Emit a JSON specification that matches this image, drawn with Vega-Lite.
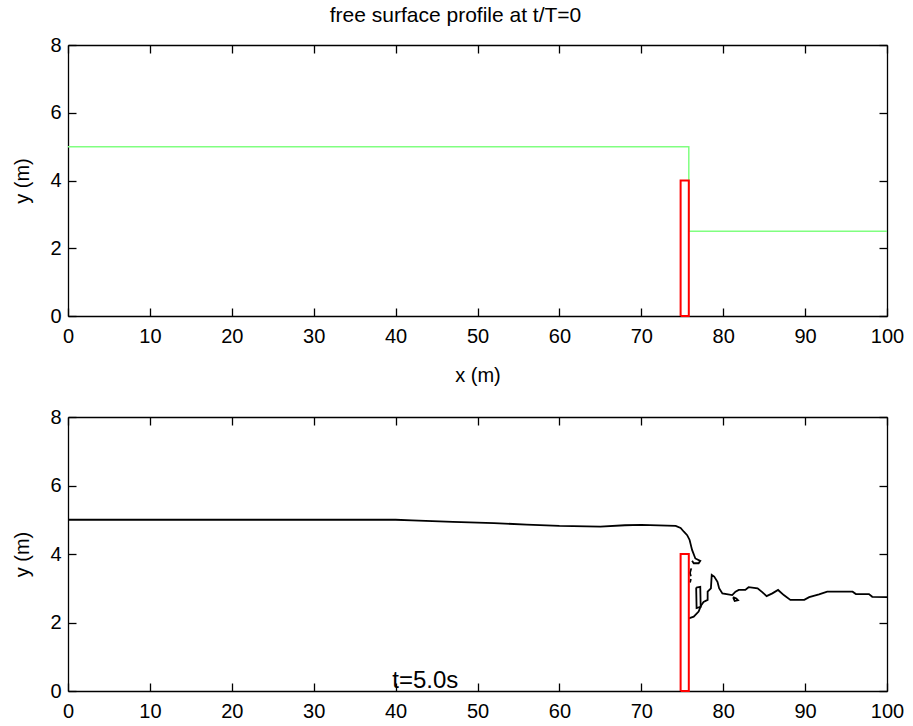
{
  "$schema": "https://vega.github.io/schema/vega-lite/v6.json",
  "padding": {"left": 12, "top": 5, "right": 5, "bottom": 5},
  "background": "white",
  "config": {
    "view": {"stroke": null},
    "font": "Liberation Sans",
    "concat": {"spacing": 22},
    "axis": {
      "grid": false,
      "domainColor": "#000",
      "domainWidth": 1.3,
      "tickColor": "#000",
      "tickWidth": 1.3,
      "tickSize": -8,
      "labelFont": "Liberation Sans",
      "labelFontSize": 20,
      "labelColor": "#000",
      "labelFlush": false,
      "labelOverlap": false,
      "labelPadding": 18,
      "titleFont": "Liberation Sans",
      "titleFontSize": 20,
      "titleFontWeight": "normal",
      "titleColor": "#000"
    },
    "title": {"font": "Liberation Sans", "fontSize": 21, "fontWeight": "normal", "color": "#000", "offset": 9}
  },
  "datasets": {
    "surface0": [
      {"i": 0, "x": 0, "y": 5},
      {"i": 1, "x": 75.8, "y": 5},
      {"i": 2, "x": 75.8, "y": 2.5},
      {"i": 3, "x": 100, "y": 2.5}
    ],
    "gate": [
      {"i": 0, "x": 74.8, "y": 0},
      {"i": 1, "x": 74.8, "y": 4},
      {"i": 2, "x": 75.8, "y": 4},
      {"i": 3, "x": 75.8, "y": 0},
      {"i": 4, "x": 74.8, "y": 0}
    ],
    "surface5": [
      {"seg": "a", "i": 0, "x": 0, "y": 5.0},
      {"seg": "a", "i": 1, "x": 20, "y": 5.0},
      {"seg": "a", "i": 2, "x": 40, "y": 5.0},
      {"seg": "a", "i": 3, "x": 42, "y": 4.98},
      {"seg": "a", "i": 4, "x": 47, "y": 4.94},
      {"seg": "a", "i": 5, "x": 52, "y": 4.9},
      {"seg": "a", "i": 6, "x": 56, "y": 4.86},
      {"seg": "a", "i": 7, "x": 60, "y": 4.82},
      {"seg": "a", "i": 8, "x": 65, "y": 4.8},
      {"seg": "a", "i": 9, "x": 68, "y": 4.84},
      {"seg": "a", "i": 10, "x": 70, "y": 4.85},
      {"seg": "a", "i": 11, "x": 74.2, "y": 4.82},
      {"seg": "a", "i": 12, "x": 74.8, "y": 4.76},
      {"seg": "a", "i": 13, "x": 75.2, "y": 4.65},
      {"seg": "a", "i": 14, "x": 75.6, "y": 4.55},
      {"seg": "a", "i": 15, "x": 75.9, "y": 4.41},
      {"seg": "a", "i": 16, "x": 76.0, "y": 4.31},
      {"seg": "a", "i": 17, "x": 76.2, "y": 4.12},
      {"seg": "a", "i": 18, "x": 76.6, "y": 3.87},
      {"seg": "a", "i": 19, "x": 77.2, "y": 3.8},
      {"seg": "a", "i": 20, "x": 77.0, "y": 3.73},
      {"seg": "a", "i": 21, "x": 76.4, "y": 3.73},
      {"seg": "a", "i": 22, "x": 76.2, "y": 3.8},
      {"seg": "b", "i": 0, "x": 76.1, "y": 3.58},
      {"seg": "b", "i": 1, "x": 75.95, "y": 3.45},
      {"seg": "b", "i": 2, "x": 76.05, "y": 3.35},
      {"seg": "c", "i": 0, "x": 76.05, "y": 3.27},
      {"seg": "c", "i": 1, "x": 75.95, "y": 3.17},
      {"seg": "d", "i": 0, "x": 76.7, "y": 3.02},
      {"seg": "d", "i": 1, "x": 77.2, "y": 3.04},
      {"seg": "d", "i": 2, "x": 77.25, "y": 2.46},
      {"seg": "d", "i": 3, "x": 76.75, "y": 2.42},
      {"seg": "d", "i": 4, "x": 76.7, "y": 3.02},
      {"seg": "e", "i": 0, "x": 75.8, "y": 2.12},
      {"seg": "e", "i": 1, "x": 76.4, "y": 2.17},
      {"seg": "e", "i": 2, "x": 77.0, "y": 2.32},
      {"seg": "e", "i": 3, "x": 77.3, "y": 2.5},
      {"seg": "e", "i": 4, "x": 77.6, "y": 2.6},
      {"seg": "e", "i": 5, "x": 78.1, "y": 2.66},
      {"seg": "e", "i": 6, "x": 78.1, "y": 2.9},
      {"seg": "e", "i": 7, "x": 78.5, "y": 3.0},
      {"seg": "e", "i": 8, "x": 78.6, "y": 3.39},
      {"seg": "e", "i": 9, "x": 78.9, "y": 3.34},
      {"seg": "e", "i": 10, "x": 79.3, "y": 3.19},
      {"seg": "e", "i": 11, "x": 79.5, "y": 3.0},
      {"seg": "e", "i": 12, "x": 79.9, "y": 2.85},
      {"seg": "e", "i": 13, "x": 81.1, "y": 2.8},
      {"seg": "e", "i": 14, "x": 81.5, "y": 2.9},
      {"seg": "e", "i": 15, "x": 81.9, "y": 2.95},
      {"seg": "e", "i": 16, "x": 82.7, "y": 2.95},
      {"seg": "e", "i": 17, "x": 83.1, "y": 3.03},
      {"seg": "e", "i": 18, "x": 84.2, "y": 3.0},
      {"seg": "e", "i": 19, "x": 84.8, "y": 2.88},
      {"seg": "e", "i": 20, "x": 85.3, "y": 2.77},
      {"seg": "e", "i": 21, "x": 86.0, "y": 2.85},
      {"seg": "e", "i": 22, "x": 86.7, "y": 2.95},
      {"seg": "e", "i": 23, "x": 87.4, "y": 2.8},
      {"seg": "e", "i": 24, "x": 88.2, "y": 2.66},
      {"seg": "e", "i": 25, "x": 89.9, "y": 2.66},
      {"seg": "e", "i": 26, "x": 90.5, "y": 2.74},
      {"seg": "e", "i": 27, "x": 91.7, "y": 2.82},
      {"seg": "e", "i": 28, "x": 92.7, "y": 2.9},
      {"seg": "e", "i": 29, "x": 95.8, "y": 2.9},
      {"seg": "e", "i": 30, "x": 96.2, "y": 2.83},
      {"seg": "e", "i": 31, "x": 97.8, "y": 2.83},
      {"seg": "e", "i": 32, "x": 98.2, "y": 2.75},
      {"seg": "e", "i": 33, "x": 100, "y": 2.74},
      {"seg": "f", "i": 0, "x": 81.2, "y": 2.74},
      {"seg": "f", "i": 1, "x": 81.6, "y": 2.7},
      {"seg": "f", "i": 2, "x": 81.8, "y": 2.65},
      {"seg": "f", "i": 3, "x": 81.4, "y": 2.63},
      {"seg": "f", "i": 4, "x": 81.2, "y": 2.74}
    ],
    "label": [{"x": 39.6, "y": 0.1, "text": "t=5.0s"}]
  },
  "vconcat": [
    {
      "width": 819,
      "height": 271,
      "title": {"text": "free surface profile at t/T=0", "dx": -22},
      "resolve": {"axis": {"x": "independent", "y": "independent"}},
      "layer": [
        {
          "data": {"name": "surface0"},
          "mark": {"type": "line", "color": "#80ff80", "strokeWidth": 1.5},
          "encoding": {
            "x": {"field": "x", "type": "quantitative", "scale": {"domain": [0, 100], "nice": false}, "axis": {"orient": "bottom", "title": "x (m)", "values": [0, 10, 20, 30, 40, 50, 60, 70, 80, 90, 100], "titlePadding": 19}},
            "y": {"field": "y", "type": "quantitative", "scale": {"domain": [0, 8], "nice": false}, "axis": {"orient": "left", "title": "y (m)", "values": [0, 2, 4, 6, 8], "titlePadding": 17, "labelPadding": 15}},
            "order": {"field": "i"}
          }
        },
        {
          "data": {"name": "gate"},
          "mark": {"type": "line", "color": "#ff0000", "strokeWidth": 2},
          "encoding": {
            "x": {"field": "x", "type": "quantitative", "axis": {"orient": "top", "title": null, "labels": false, "values": [0, 10, 20, 30, 40, 50, 60, 70, 80, 90, 100]}},
            "y": {"field": "y", "type": "quantitative", "axis": {"orient": "right", "title": null, "labels": false, "values": [0, 2, 4, 6, 8]}},
            "order": {"field": "i"}
          }
        }
      ]
    },
    {
      "width": 819,
      "height": 274,
      "resolve": {"axis": {"x": "independent", "y": "independent"}},
      "layer": [
        {
          "data": {"name": "surface5"},
          "mark": {"type": "line", "color": "#000000", "strokeWidth": 1.8},
          "encoding": {
            "x": {"field": "x", "type": "quantitative", "scale": {"domain": [0, 100], "nice": false}, "axis": {"orient": "bottom", "title": null, "values": [0, 10, 20, 30, 40, 50, 60, 70, 80, 90, 100]}},
            "y": {"field": "y", "type": "quantitative", "scale": {"domain": [0, 8], "nice": false}, "axis": {"orient": "left", "title": "y (m)", "values": [0, 2, 4, 6, 8], "titlePadding": 17, "labelPadding": 15}},
            "detail": {"field": "seg"},
            "order": {"field": "i"}
          }
        },
        {
          "data": {"name": "gate"},
          "mark": {"type": "line", "color": "#ff0000", "strokeWidth": 2},
          "encoding": {
            "x": {"field": "x", "type": "quantitative", "axis": {"orient": "top", "title": null, "labels": false, "values": [0, 10, 20, 30, 40, 50, 60, 70, 80, 90, 100]}},
            "y": {"field": "y", "type": "quantitative", "axis": {"orient": "right", "title": null, "labels": false, "values": [0, 2, 4, 6, 8]}},
            "order": {"field": "i"}
          }
        },
        {
          "data": {"name": "label"},
          "mark": {"type": "text", "align": "left", "baseline": "alphabetic", "fontSize": 24, "color": "#000", "font": "Liberation Sans"},
          "encoding": {
            "x": {"field": "x", "type": "quantitative", "axis": null},
            "y": {"field": "y", "type": "quantitative", "axis": null},
            "text": {"field": "text"}
          }
        }
      ]
    }
  ]
}
